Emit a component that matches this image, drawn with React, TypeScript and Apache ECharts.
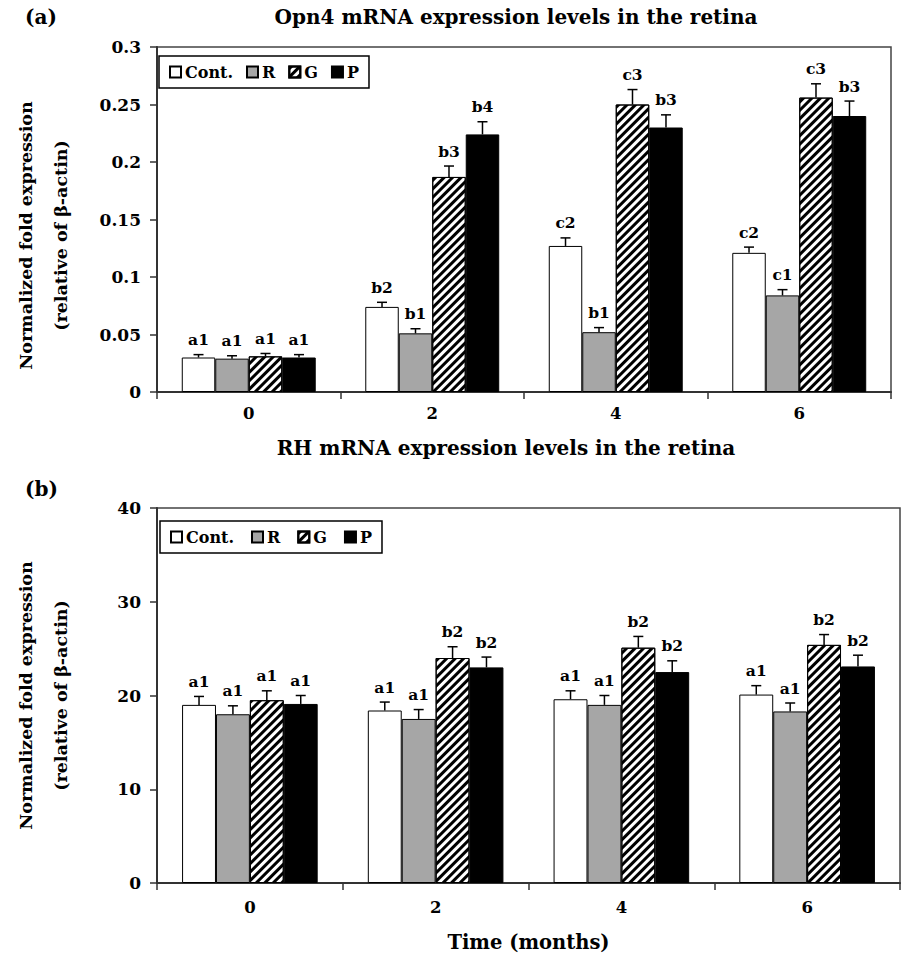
import React, { useEffect, useRef } from 'react';
import * as echarts from 'echarts';

const categories = ['0', '2', '4', '6'];
const seriesNames = ['Cont.', 'R', 'G', 'P'];

// Panel (a): Opn4 mRNA expression
const opn4Cont = [0.030, 0.074, 0.127, 0.121];
const opn4R = [0.029, 0.051, 0.052, 0.084];
const opn4G = [0.031, 0.187, 0.250, 0.256];
const opn4P = [0.030, 0.224, 0.230, 0.240];
const opn4ContErr = [0.0025, 0.004, 0.007, 0.005];
const opn4RErr = [0.0025, 0.004, 0.004, 0.005];
const opn4GErr = [0.0025, 0.0095, 0.013, 0.012];
const opn4PErr = [0.0025, 0.011, 0.011, 0.013];
const opn4ContLbl = ['a1', 'b2', 'c2', 'c2'];
const opn4RLbl = ['a1', 'b1', 'b1', 'c1'];
const opn4GLbl = ['a1', 'b3', 'c3', 'c3'];
const opn4PLbl = ['a1', 'b4', 'b3', 'b3'];
const opn4Ticks = { min: 0, max: 0.3, interval: 0.05 };

// Panel (b): RH mRNA expression
const rhCont = [19.0, 18.4, 19.6, 20.1];
const rhR = [18.0, 17.5, 19.0, 18.3];
const rhG = [19.5, 24.0, 25.1, 25.4];
const rhP = [19.1, 23.0, 22.5, 23.1];
const rhContErr = [0.9, 0.9, 0.9, 0.95];
const rhRErr = [0.9, 1.0, 1.0, 0.9];
const rhGErr = [1.0, 1.2, 1.2, 1.1];
const rhPErr = [0.9, 1.1, 1.2, 1.2];
const rhContLbl = ['a1', 'a1', 'a1', 'a1'];
const rhRLbl = ['a1', 'a1', 'a1', 'a1'];
const rhGLbl = ['a1', 'b2', 'b2', 'b2'];
const rhPLbl = ['a1', 'b2', 'b2', 'b2'];
const rhTicks = { min: 0, max: 40, interval: 10 };

const FONT = '"DejaVu Serif", "Liberation Serif", serif';
const GAP = 0.27;

const hatch = {
  symbol: 'rect',
  symbolSize: 1,
  color: '#000',
  dashArrayX: [1, 0],
  dashArrayY: [3, 3],
  rotation: -Math.PI / 4,
};

const styles = [
  { color: '#ffffff', borderColor: '#000', borderWidth: 1 },
  { color: '#a6a6a6', borderColor: '#000', borderWidth: 1 },
  { color: '#ffffff', borderColor: '#000', borderWidth: 1, decal: hatch },
  { color: '#000000', borderColor: '#000', borderWidth: 1 },
];

function buildPanel(
  panel: number,
  values: number[][],
  errs: number[][],
  labels: string[][]
) {
  const out: any[] = [];
  values.forEach((vals, s) => {
    out.push({
      type: 'bar',
      name: seriesNames[s],
      xAxisIndex: panel,
      yAxisIndex: panel,
      data: vals,
      barGap: '0%',
      barCategoryGap: GAP * 100 + '%',
      itemStyle: styles[s],
      emphasis: { disabled: true },
    });
  });
  values.forEach((vals, s) => {
    const lbl = labels[s];
    out.push({
      type: 'custom',
      xAxisIndex: panel,
      yAxisIndex: panel,
      z: 5,
      data: vals.map((v, i) => [i, v, errs[s][i]]),
      renderItem: (params: any, api: any) => {
        const ci = api.value(0);
        const v = api.value(1);
        const e = api.value(2);
        const base = api.coord([ci, v]);
        const top = api.coord([ci, v + e]);
        const cw = api.size([1, 0])[0];
        const bw = (cw * (1 - GAP)) / 4;
        const x = base[0] + (s - 1.5) * bw;
        return {
          type: 'group',
          children: [
            {
              type: 'line',
              shape: { x1: x, y1: base[1], x2: x, y2: top[1] },
              style: { stroke: '#000', lineWidth: 1.5 },
            },
            {
              type: 'line',
              shape: { x1: x - 5, y1: top[1], x2: x + 5, y2: top[1] },
              style: { stroke: '#000', lineWidth: 1.5 },
            },
            {
              type: 'text',
              x: x,
              y: top[1] - 7,
              style: {
                text: lbl[params.dataIndex],
                align: 'center',
                verticalAlign: 'bottom',
                textAlign: 'center',
                textVerticalAlign: 'bottom',
                font: `bold 15.5px ${FONT}`,
                fill: '#000',
              },
            },
          ],
        };
      },
    });
  });
  return out;
}

const textBase = { fontFamily: FONT, fontWeight: 'bold' as const, color: '#000' };

function yAxis(gridIndex: number, ticks: any, padRight: number) {
  return {
    type: 'value',
    gridIndex,
    ...ticks,
    name: 'Normalized fold expression\n(relative of β-actin)',
    nameLocation: 'middle',
    nameRotate: 90,
    nameGap: 79,
    nameTextStyle: { ...textBase, fontSize: 17.5, lineHeight: 35, padding: [0, padRight, 0, 0] },
    axisLine: { show: true, lineStyle: { color: '#333', width: 2 } },
    axisTick: { show: true, length: 7, lineStyle: { color: '#333', width: 1.5 } },
    axisLabel: { ...textBase, fontSize: 17, margin: 16 },
    splitLine: { show: false },
  };
}

function xAxis(gridIndex: number, margin: number, withName: boolean) {
  return {
    type: 'category',
    gridIndex,
    data: categories,
    axisLine: { show: true, lineStyle: { color: '#333', width: 2 } },
    axisTick: { show: true, alignWithLabel: false, length: 7, lineStyle: { color: '#333', width: 1.5 } },
    axisLabel: { ...textBase, fontSize: 16.5, margin },
    name: withName ? 'Time (months)' : '',
    nameLocation: 'middle',
    nameGap: 49,
    nameTextStyle: { ...textBase, fontSize: 19.5 },
  };
}

function legend(left: number, top: number, gap: number) {
  return {
    left,
    top,
    orient: 'horizontal',
    data: seriesNames,
    icon: 'rect',
    itemWidth: 11,
    itemHeight: 11,
    itemGap: gap,
    padding: [8, 10, 8, 10],
    borderColor: '#000',
    borderWidth: 1.5,
    backgroundColor: '#fff',
    selectedMode: false,
    textStyle: { ...textBase, fontSize: 16, padding: [0, 0, 0, -1] },
  };
}

export default function App() {
  const ref = useRef<HTMLDivElement>(null);
  useEffect(() => {
    if (!ref.current) return;
    const chart = echarts.init(ref.current, undefined, { renderer: 'svg' });
    const option: any = {
      animation: false,
      backgroundColor: '#fff',
      title: [
        { text: '(a)', left: 20, top: 2, textStyle: { ...textBase, fontSize: 20 } },
        {
          text: 'Opn4 mRNA expression levels in the retina',
          left: 511,
          top: 2,
          textAlign: 'center',
          textStyle: { ...textBase, fontSize: 20 },
        },
        { text: '(b)', left: 20, top: 474, textStyle: { ...textBase, fontSize: 20 } },
        {
          text: 'RH mRNA expression levels in the retina',
          left: 501,
          top: 433,
          textAlign: 'center',
          textStyle: { ...textBase, fontSize: 20 },
        },
      ],
      legend: [legend(159, 56, 13), legend(160, 521, 17)],
      grid: [
        { left: 148, top: 47, width: 743, height: 345, show: true, borderColor: '#444', borderWidth: 1.5, backgroundColor: 'transparent' },
        { left: 154, top: 508, width: 746, height: 375, show: true, borderColor: '#444', borderWidth: 1.5, backgroundColor: 'transparent' },
      ],
      xAxis: [xAxis(0, 13, false), xAxis(1, 16, true)],
      yAxis: [yAxis(0, opn4Ticks, 32), yAxis(1, rhTicks, 0)],
      series: [
        ...buildPanel(
          0,
          [opn4Cont, opn4R, opn4G, opn4P],
          [opn4ContErr, opn4RErr, opn4GErr, opn4PErr],
          [opn4ContLbl, opn4RLbl, opn4GLbl, opn4PLbl]
        ),
        ...buildPanel(
          1,
          [rhCont, rhR, rhG, rhP],
          [rhContErr, rhRErr, rhGErr, rhPErr],
          [rhContLbl, rhRLbl, rhGLbl, rhPLbl]
        ),
      ],
    };
    chart.setOption(option);
    return () => chart.dispose();
  }, []);
  return (
    <div
      ref={ref}
      style={{ position: 'absolute', left: 0, top: 0, width: 902, height: 956, background: '#fff' }}
    />
  );
}
